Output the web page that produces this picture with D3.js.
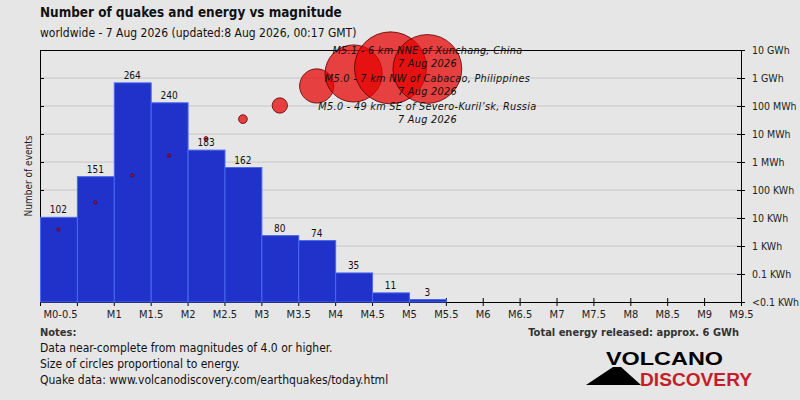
<!DOCTYPE html>
<html>
<head>
<meta charset="utf-8">
<script src="https://cdn.jsdelivr.net/npm/d3@7"></script>
<style>
  body { margin: 0; background: #e6e6e6; }
  svg { display: block; font-family: "DejaVu Sans Condensed", "DejaVu Sans", sans-serif; }
</style>
</head>
<body>
<div id="chart"></div>
<script>
// magnitude bins (lower edge) and number of events per bin
let binStarts = [0, 0.5, 1, 1.5, 2, 2.5, 3, 3.5, 4, 4.5, 5];
let counts = [102, 151, 264, 240, 183, 162, 80, 74, 35, 11, 3];
// energy released per bin, in Wh
let energies = [3900, 36000, 330000, 1.7e6, 6.9e6, 3.4e7, 1.04e8, 5.2e8, 1.45e9, 2.3e9, 2.1e9];

// magnitude axis
let magTicks = [0, 0.5, 1, 1.5, 2, 2.5, 3, 3.5, 4, 4.5, 5, 5.5, 6, 6.5, 7, 7.5, 8, 8.5, 9, 9.5];
let magLabels = ["M0-0.5", "", "M1", "M1.5", "M2", "M2.5", "M3", "M3.5", "M4", "M4.5", "M5",
  "M5.5", "M6", "M6.5", "M7", "M7.5", "M8", "M8.5", "M9", "M9.5"];

// energy axis
let energyTicks = [10, 100, 1e3, 1e4, 1e5, 1e6, 1e7, 1e8, 1e9, 1e10];
let energyLabels = ["<0.1 KWh", "0.1 KWh", "1 KWh", "10 KWh", "100 KWh", "1 MWh",
  "10 MWh", "100 MWh", "1 GWh", "10 GWh"];

// strongest quakes
let quakeNames = ["M5.1 - 6 km NNE of Xunchang, China",
  "M5.0 - 7 km NW of Cabacao, Philippines",
  "M5.0 - 49 km SE of Severo-Kuril\u2019sk, Russia"];
let quakeDates = ["7 Aug 2026", "7 Aug 2026", "7 Aug 2026"];
let quakeLabelEnergy = [1e10, 1e9, 1e8];

let notes = ["Data near-complete from magnitudes of 4.0 or higher.",
  "Size of circles proportional to energy.",
  "Quake data: www.volcanodiscovery.com/earthquakes/today.html"];

let svgWidth = 800;
let svgHeight = 400;
let margin = { top: 50, right: 59, bottom: 98, left: 40 };
let chartWidth = svgWidth - margin.left - margin.right;
let chartHeight = svgHeight - margin.top - margin.bottom;

let svg = d3.select("#chart")
  .append("svg")
  .attr("width", svgWidth)
  .attr("height", svgHeight);

svg.append("rect")
  .attr("width", svgWidth)
  .attr("height", svgHeight)
  .attr("fill", "#e6e6e6");

let chartGroup = svg.append("g")
  .attr("transform", `translate(${margin.left}, ${margin.top})`);

// scales
let xScale = d3.scaleLinear().domain([0, 9.5]).range([0, chartWidth]);
let yCount = d3.scaleLinear().domain([0, d3.max(counts) * 1.15]).range([chartHeight, 0]);
let yEnergy = d3.scaleLog().domain([10, 1e10]).range([chartHeight, 0]);
let rScale = d3.scaleSqrt().domain([0, d3.max(energies)]).range([0, 36]);

// gridlines
chartGroup.append("g")
  .selectAll("line")
  .data(energyTicks.slice(1, -1))
  .enter()
  .append("line")
  .attr("x1", 0)
  .attr("x2", chartWidth)
  .attr("y1", d => yEnergy(d))
  .attr("y2", d => yEnergy(d))
  .attr("stroke", "#c6c6c6")
  .attr("stroke-width", 1);

// frame top
chartGroup.append("line")
  .attr("x1", 0).attr("x2", chartWidth)
  .attr("y1", 0.5).attr("y2", 0.5)
  .attr("stroke", "#000");

// left axis (ticks only)
let leftAxis = d3.axisLeft(yEnergy).tickValues(energyTicks).tickFormat("")
  .tickSizeInner(-4).tickSizeOuter(0);
chartGroup.append("g").call(leftAxis);

// right axis with energy labels
let rightAxis = d3.axisRight(yEnergy).tickValues(energyTicks)
  .tickFormat((d, i) => energyLabels[i])
  .tickSizeInner(4).tickSizeOuter(0).tickPadding(7);
let rightG = chartGroup.append("g")
  .attr("transform", `translate(${chartWidth}, 0)`)
  .call(rightAxis);
rightG.selectAll(".tick line").attr("x1", -4);
rightG.selectAll("text")
  .attr("font-family", "DejaVu Sans Condensed, DejaVu Sans, sans-serif")
  .attr("font-size", 10.5)
  .attr("fill", "#222");

// bottom axis
let bottomAxis = d3.axisBottom(xScale).tickValues(magTicks)
  .tickFormat((d, i) => magLabels[i])
  .tickSizeInner(4).tickSizeOuter(0).tickPadding(4);
let bottomG = chartGroup.append("g")
  .attr("transform", `translate(0, ${chartHeight})`)
  .call(bottomAxis);
bottomG.selectAll(".tick line").attr("y1", -4);
bottomG.selectAll("text")
  .attr("font-family", "DejaVu Sans Condensed, DejaVu Sans, sans-serif")
  .attr("font-size", 11)
  .attr("fill", "#222");
bottomG.select(".tick text")
  .attr("text-anchor", "start")
  .attr("x", 3);

// bars
let binW = xScale(0.5) - xScale(0);
chartGroup.append("g")
  .selectAll("rect")
  .data(counts)
  .enter()
  .append("rect")
  .attr("x", (d, i) => xScale(binStarts[i]) + 0.5)
  .attr("y", d => yCount(d))
  .attr("width", binW)
  .attr("height", d => chartHeight - yCount(d))
  .attr("fill", "#2032c9")
  .attr("stroke", "#4a68f2")
  .attr("stroke-width", 1);

// energy circles
chartGroup.append("g")
  .selectAll("circle")
  .data(energies)
  .enter()
  .append("circle")
  .attr("cx", (d, i) => xScale(binStarts[i] + 0.25))
  .attr("cy", d => yEnergy(d))
  .attr("r", d => Math.max(1.5, rScale(d)))
  .attr("fill", "rgba(230, 0, 0, 0.72)")
  .attr("stroke", "#5a0000")
  .attr("stroke-opacity", 0.8)
  .attr("stroke-width", 1);

// count labels
chartGroup.append("g")
  .selectAll("text")
  .data(counts)
  .enter()
  .append("text")
  .attr("x", (d, i) => xScale(binStarts[i] + 0.25))
  .attr("y", d => yCount(d) - 4)
  .attr("text-anchor", "middle")
  .attr("font-size", 10)
  .attr("fill", "#111")
  .text(d => d);

// strongest quake labels
let labelX = xScale(binStarts[binStarts.length - 1] + 0.25);
let quakeG = chartGroup.append("g")
  .attr("font-style", "italic")
  .attr("font-size", 10.8)
  .attr("letter-spacing", 0.3)
  .attr("fill", "#111")
  .attr("text-anchor", "middle");
quakeNames.forEach((name, i) => {
  let yy = yEnergy(quakeLabelEnergy[i]);
  quakeG.append("text").attr("x", labelX).attr("y", yy + 4).text(name);
  quakeG.append("text").attr("x", labelX).attr("y", yy + 16.8).text(quakeDates[i]);
});

// y label
svg.append("text")
  .attr("transform", "rotate(-90)")
  .attr("x", -176)
  .attr("y", 32)
  .attr("text-anchor", "middle")
  .attr("font-size", 10)
  .attr("fill", "#222")
  .text("Number of events");

// titles
svg.append("text")
  .attr("x", 40).attr("y", 17)
  .attr("font-size", 13.4).attr("font-weight", "bold").attr("fill", "#111")
  .text("Number of quakes and energy vs magnitude");
svg.append("text")
  .attr("x", 40).attr("y", 37)
  .attr("font-size", 12).attr("fill", "#111")
  .text("worldwide - 7 Aug 2026 (updated:8 Aug 2026, 00:17 GMT)");

// notes
svg.append("text")
  .attr("x", 40).attr("y", 336)
  .attr("font-size", 11).attr("font-weight", "bold").attr("fill", "#333")
  .text("Notes:");
svg.append("g")
  .selectAll("text")
  .data(notes)
  .enter()
  .append("text")
  .attr("x", 40)
  .attr("y", (d, i) => 352 + i * 16)
  .attr("font-size", 12)
  .attr("fill", "#111")
  .text(d => d);

svg.append("text")
  .attr("x", 739).attr("y", 336)
  .attr("text-anchor", "end")
  .attr("font-size", 11).attr("font-weight", "bold").attr("fill", "#333")
  .text("Total energy released: approx. 6 GWh");

// logo
let logo = svg.append("g").attr("font-family", "Liberation Sans, Arial, sans-serif").attr("font-weight", "bold");
logo.append("polygon")
  .attr("points", "586,385 613,367 621,367 641,385")
  .attr("fill", "#000");
logo.append("text")
  .attr("x", 606).attr("y", 365)
  .attr("font-size", 18.5)
  .attr("textLength", 117).attr("lengthAdjust", "spacingAndGlyphs")
  .attr("fill", "#000")
  .text("VOLCANO");
logo.append("text")
  .attr("x", 640).attr("y", 386)
  .attr("font-size", 18.5)
  .attr("textLength", 112).attr("lengthAdjust", "spacingAndGlyphs")
  .attr("fill", "#c41e2a")
  .text("DISCOVERY");
</script>
</body>
</html>
